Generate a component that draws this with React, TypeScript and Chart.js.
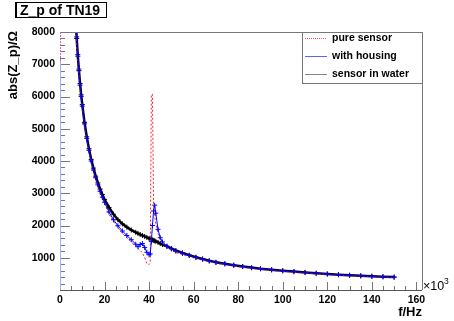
import React, { useEffect, useRef } from "react";
import { Chart, registerables } from "chart.js";

Chart.register(...registerables);

// frequency in kHz (axis shows f/Hz ×10^3)
const freqKHz = [7, 7.5, 8, 8.5, 9, 9.5, 10, 11, 12, 13, 14, 15, 16, 17, 18, 19, 20, 22, 24, 26, 28, 30, 32, 34, 35, 36, 37, 38, 39, 40, 40.5, 41, 41.5, 42, 42.5, 43, 44, 45, 46, 48, 50, 52, 55, 58, 61, 64, 67, 70, 74, 78, 82, 86, 90, 95, 100, 105, 110, 115, 120, 125, 130, 135, 140, 145, 150];

const pureSensor = [8400, 7400, 7150, 6700, 6250, 5900, 5650, 5100, 4650, 4300, 3950, 3680, 3420, 3200, 3000, 2820, 2680, 2350, 2120, 1930, 1760, 1620, 1490, 1360, 1290, 1230, 1150, 1000, 820, 790, 830, 6070, 6070, 2650, 2300, 2050, 1750, 1560, 1450, 1320, 1235, 1165, 1095, 1035, 975, 925, 870, 828, 785, 742, 702, 668, 635, 605, 578, 550, 526, 502, 480, 460, 442, 426, 410, 396, 385];

const withHousing = [8400, 7850, 7300, 6850, 6350, 6000, 5700, 5150, 4700, 4330, 4000, 3720, 3480, 3260, 3060, 2880, 2720, 2420, 2180, 1990, 1830, 1690, 1560, 1420, 1340, 1410, 1440, 1320, 1170, 1090, 1120, 1500, 2000, 2450, 2630, 2380, 1880, 1620, 1490, 1360, 1275, 1205, 1135, 1070, 1010, 955, 900, 855, 810, 768, 728, 690, 658, 625, 595, 568, 542, 518, 495, 475, 455, 440, 425, 410, 398];

const sensorInWater = [8400, 7800, 7250, 6800, 6400, 6050, 5750, 5200, 4750, 4380, 4050, 3780, 3530, 3320, 3130, 2960, 2810, 2560, 2350, 2180, 2050, 1950, 1860, 1790, 1755, 1720, 1690, 1660, 1630, 1600, 1585, 1570, 1555, 1540, 1525, 1510, 1475, 1440, 1410, 1350, 1290, 1225, 1150, 1080, 1015, 960, 905, 860, 815, 770, 730, 695, 660, 628, 598, 570, 545, 520, 497, 476, 457, 440, 425, 412, 400];

const seriesNames = ["pure sensor", "with housing", "sensor in water"];
const titleText = "Z_p of TN19";
const yTitle = "abs(Z_p)/\u03A9";
const xTitle = "f/Hz";

const FONT = '"Liberation Sans", Arial, sans-serif';

const toPoints = (vals: number[]) => freqKHz.map((f, i) => ({ x: f, y: vals[i] }));

const rootPlugin = {
  id: "rootStyle",
  afterDatasetsDraw(chart: any) {
    const { ctx, chartArea: a, scales } = chart;
    const x = scales.x;
    const y = scales.y;
    ctx.save();
    ctx.lineWidth = 1;
    ctx.strokeStyle = "#777";
    ctx.beginPath();
    for (let v = 0; v <= 160; v += 5) {
      const px = Math.round(x.getPixelForValue(v)) + 0.5;
      const len = v % 20 === 0 ? 8 : 4;
      ctx.moveTo(px, a.bottom);
      ctx.lineTo(px, a.bottom - len);
    }
    for (let v = 0; v <= 8000; v += 200) {
      const py = Math.round(y.getPixelForValue(v)) + 0.5;
      const len = v % 1000 === 0 ? 10 : 5;
      ctx.moveTo(a.left, py);
      ctx.lineTo(a.left + len, py);
    }
    ctx.stroke();
    ctx.strokeStyle = "#777";
    ctx.beginPath();
    ctx.moveTo(a.left, Math.round(a.top) + 0.5);
    ctx.lineTo(Math.round(a.right) + 0.5, Math.round(a.top) + 0.5);
    ctx.lineTo(Math.round(a.right) + 0.5, a.bottom);
    ctx.stroke();
    ctx.strokeStyle = "#555";
    ctx.beginPath();
    ctx.moveTo(a.left, Math.round(a.bottom) + 0.5);
    ctx.lineTo(a.right, Math.round(a.bottom) + 0.5);
    ctx.stroke();
    const lx = Math.round(a.left) + 0.5;
    const ySplit = y.getPixelForValue(7100);
    ctx.strokeStyle = "#a8a8ff";
    ctx.beginPath();
    ctx.moveTo(lx, a.bottom);
    ctx.lineTo(lx, ySplit);
    ctx.stroke();
    ctx.strokeStyle = "#d060c0";
    ctx.setLineDash([2, 1]);
    ctx.beginPath();
    ctx.moveTo(lx, ySplit);
    ctx.lineTo(lx, a.top);
    ctx.stroke();
    ctx.restore();
  },
  afterDraw(chart: any) {
    const { ctx, chartArea: a } = chart;
    ctx.save();
    // title box
    ctx.fillStyle = "#fff";
    ctx.fillRect(15, 3, 91, 15);
    ctx.strokeStyle = "#000";
    ctx.lineWidth = 1;
    ctx.strokeRect(15.5, 2.5, 91, 15);
    ctx.fillStyle = "#000";
    ctx.fillRect(15, 2, 2, 16);
    ctx.font = `bold 14px ${FONT}`;
    ctx.textAlign = "left";
    ctx.textBaseline = "alphabetic";
    ctx.fillText(titleText, 20, 15);

    // y title
    ctx.save();
    ctx.translate(13, a.top - 1);
    ctx.rotate(-Math.PI / 2);
    ctx.font = `bold 13px ${FONT}`;
    ctx.textAlign = "right";
    ctx.textBaseline = "middle";
    ctx.fillText(yTitle, 0, 0);
    ctx.restore();

    // x title
    ctx.font = `bold 13px ${FONT}`;
    ctx.textAlign = "right";
    ctx.textBaseline = "alphabetic";
    ctx.fillText(xTitle, a.right, 316);

    // x10^3
    ctx.textAlign = "left";
    ctx.font = `12.5px ${FONT}`;
    ctx.fillText("\u00D710", a.right + 1, 290);
    ctx.font = `8.5px ${FONT}`;
    ctx.fillText("3", a.right + 22, 284);

    // legend
    const lx0 = 302.5, ly0 = Math.round(a.top) + 0.5, lw = Math.round(a.right) - 302, lh = 51;
    ctx.fillStyle = "#fff";
    ctx.fillRect(lx0, ly0, lw, lh);
    ctx.strokeStyle = "#777";
    ctx.strokeRect(lx0, ly0, lw, lh);
    const rows = [38.5, 56.5, 74.5];
    const cols = ["#ff5050", "#6060ff", "#888888"];
    rows.forEach((ry, i) => {
      ctx.save();
      ctx.strokeStyle = cols[i];
      ctx.lineWidth = 1;
      if (i === 0) ctx.setLineDash([1, 1]);
      ctx.beginPath();
      ctx.moveTo(305, ry);
      ctx.lineTo(327, ry);
      ctx.stroke();
      ctx.restore();
      ctx.fillStyle = "#000";
      ctx.font = `bold 10.5px ${FONT}`;
      ctx.textAlign = "left";
      ctx.textBaseline = "middle";
      ctx.fillText(seriesNames[i], 332, ry);
    });
    ctx.restore();
  },
};

export default function App() {
  const ref = useRef<HTMLCanvasElement>(null);
  useEffect(() => {
    if (!ref.current) return;
    const chart = new Chart(ref.current, {
      type: "line",
      data: {
        datasets: [
          {
            label: seriesNames[1],
            data: toPoints(withHousing),
            borderColor: "#0000ff",
            borderWidth: 1,
            pointStyle: "cross",
            pointRadius: 2.5,
            pointBorderColor: "#0000ff",
            pointBorderWidth: 1,
            order: 0,
          },
          {
            label: seriesNames[0],
            data: toPoints(pureSensor),
            borderColor: "#ff2020",
            borderWidth: 1,
            borderDash: [2, 2],
            pointRadius: 0,
            order: 1,
          },
          {
            label: seriesNames[2],
            data: toPoints(sensorInWater),
            borderColor: "#000000",
            borderWidth: 2.5,
            pointStyle: "cross",
            pointRadius: 2.5,
            pointBorderColor: "#000000",
            pointBorderWidth: 1,
            order: 2,
          },
        ],
      },
      options: {
        responsive: false,
        animation: false,
        devicePixelRatio: 1,
        layout: { padding: { left: 0, right: 32, top: 32, bottom: 0 } },
        plugins: { legend: { display: false }, tooltip: { enabled: false }, title: { display: false } },
        elements: { line: { tension: 0 } },
        scales: {
          x: {
            type: "linear",
            min: 0,
            max: 162.5,
            grid: { display: false, drawTicks: false },
            border: { display: false },
            afterFit: (s: any) => {
              s.height = 31;
            },
            ticks: {
              stepSize: 20,
              includeBounds: false,
              maxRotation: 0,
              autoSkip: false,
              padding: 4,
              color: "#000",
              font: { family: FONT, size: 10.5, weight: "bold" },
              callback: (v: any) => String(v),
            },
          },
          y: {
            type: "linear",
            min: 0,
            max: 8000,
            grid: { display: false, drawTicks: false },
            border: { display: false },
            afterFit: (s: any) => {
              s.width = 60;
            },
            ticks: {
              stepSize: 1000,
              includeBounds: false,
              padding: 5,
              color: "#000",
              font: { family: FONT, size: 10.5, weight: "bold" },
              callback: (v: any) => (v === 0 ? "" : String(v)),
            },
          },
        },
      },
      plugins: [rootPlugin],
    });
    return () => chart.destroy();
  }, []);
  return (
    <div style={{ position: "absolute", left: 0, top: 0, width: 454, height: 321, background: "#fff" }}>
      <canvas ref={ref} width={454} height={321} style={{ width: 454, height: 321, display: "block" }} />
    </div>
  );
}
